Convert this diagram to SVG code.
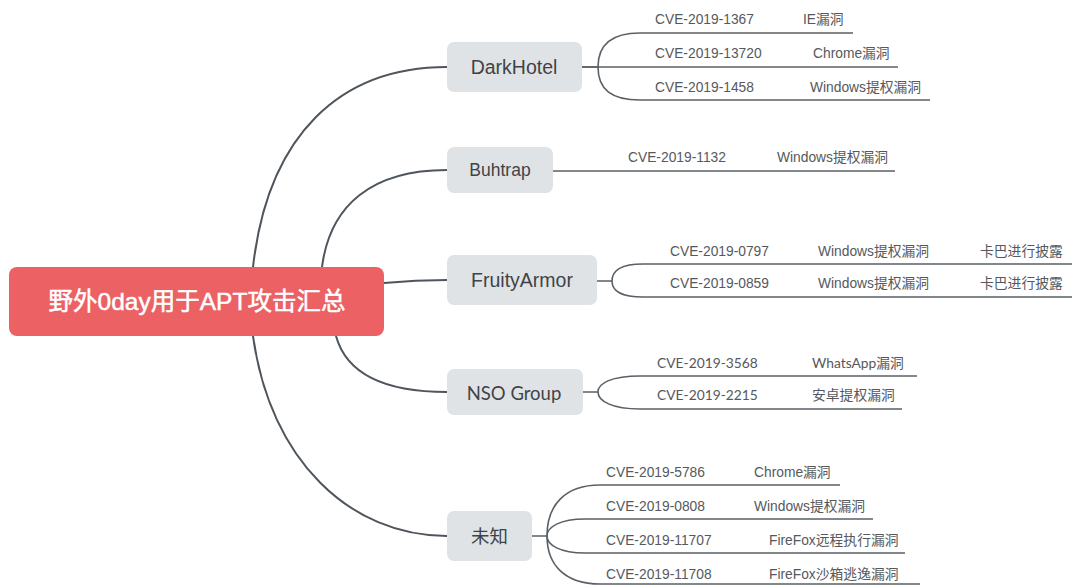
<svg xmlns="http://www.w3.org/2000/svg" width="1072" height="585" viewBox="0 0 1072 585">
<style>
.bg{fill:#ffffff}
.conn path{fill:none;stroke:#4f555c;stroke-width:2;stroke-linecap:round}
.sub path{fill:none;stroke:#5a6067;stroke-width:1.6}
.box{fill:#dfe3e6}
.root{fill:#eb6164}
.rt{font-family:"Liberation Sans","Noto Sans CJK SC",sans-serif;font-size:24.5px;fill:#ffffff;stroke:#ffffff;stroke-width:0.5;text-anchor:middle}
.bt{font-family:"Liberation Sans","Noto Sans CJK SC",sans-serif;font-size:19.5px;fill:#3f4347;text-anchor:middle}
.lt{font-family:"Liberation Sans","Noto Sans CJK SC",sans-serif;font-size:13.8px;fill:#55595d}
.lato{font-family:Lato,"Noto Sans CJK SC",sans-serif}
</style>
<rect class="bg" x="0" y="0" width="1072" height="585"/>
<g id="connectors">
<g class="conn">
<path d="M253,267 C268,135 340,67 447,67"/>
<path d="M322,267 C330,205 372,170 447,170"/>
<path d="M384,283 C405,281 425,280 447,280"/>
<path d="M336,336 C346,372 382,392 447,392"/>
<path d="M253,336 C270,460 350,536 447,536"/>
</g>
<g class="sub">
<path d="M582,67 H898"/>
<path d="M582,67 H598 C598,44 612,33 640,33 H853"/>
<path d="M598,67 C598,90 612,100 640,100 H930"/>
<path d="M553,171 H895"/>
<path d="M597,281 H612 C612,270 622,264 643,264 H1072"/>
<path d="M612,281 C612,292 622,297 643,297 H1072"/>
<path d="M583,392 H598 C598,383 612,376 640,376 H917"/>
<path d="M598,392 C598,401 612,409 640,409 H902"/>
<path d="M532,536 H547 C547,505 565,485 600,485 H840"/>
<path d="M547,536 C547,527 560,519 585,519 H873"/>
<path d="M547,536 C547,545 560,553 585,553 H905"/>
<path d="M547,536 C547,565 565,584 600,584 H920"/>
</g>
</g>
<g id="root">
<rect class="root" x="9" y="267" width="375" height="69" rx="8"/>
<text class="rt" x="197" y="310">野外0day用于APT攻击汇总</text>
</g>
<g id="darkhotel">
<rect class="box" x="447" y="42" width="135" height="50" rx="7"/>
<text class="bt" x="514" y="74">DarkHotel</text>
<text class="lt" x="655" y="24">CVE-2019-1367</text>
<text class="lt" x="803" y="24">IE漏洞</text>
<text class="lt" x="655" y="58">CVE-2019-13720</text>
<text class="lt" x="813" y="58">Chrome漏洞</text>
<text class="lt" x="655" y="92">CVE-2019-1458</text>
<text class="lt" x="810" y="92">Windows提权漏洞</text>
</g>
<g id="buhtrap">
<rect class="box" x="447" y="147" width="106" height="46" rx="7"/>
<text class="bt" x="500" y="176" style="font-size:17.5px">Buhtrap</text>
<text class="lt" x="628" y="162">CVE-2019-1132</text>
<text class="lt" x="777" y="162">Windows提权漏洞</text>
</g>
<g id="fruityarmor">
<rect class="box" x="447" y="255" width="150" height="50" rx="7"/>
<text class="bt" x="522" y="287">FruityArmor</text>
<text class="lt" x="670" y="256">CVE-2019-0797</text>
<text class="lt" x="818" y="256">Windows提权漏洞</text>
<text class="lt" x="980" y="256">卡巴进行披露</text>
<text class="lt" x="670" y="288">CVE-2019-0859</text>
<text class="lt" x="818" y="288">Windows提权漏洞</text>
<text class="lt" x="980" y="288">卡巴进行披露</text>
</g>
<g id="nso">
<rect class="box" x="447" y="369" width="136" height="46" rx="7"/>
<text class="bt lato" x="514" y="400" style="font-size:18.5px">NSO Group</text>
<text class="lt lato" x="657" y="368">CVE-2019-3568</text>
<text class="lt lato" x="812" y="368">WhatsApp漏洞</text>
<text class="lt lato" x="657" y="400">CVE-2019-2215</text>
<text class="lt lato" x="812" y="400">安卓提权漏洞</text>
</g>
<g id="unknown">
<rect class="box" x="447" y="511" width="85" height="50" rx="7"/>
<text class="bt" x="489.5" y="543" style="font-size:18.5px">未知</text>
<text class="lt" x="606" y="477">CVE-2019-5786</text>
<text class="lt" x="754" y="477">Chrome漏洞</text>
<text class="lt" x="606" y="511">CVE-2019-0808</text>
<text class="lt" x="754" y="511">Windows提权漏洞</text>
<text class="lt" x="606" y="545">CVE-2019-11707</text>
<text class="lt" x="769" y="545">FireFox远程执行漏洞</text>
<text class="lt" x="606" y="579">CVE-2019-11708</text>
<text class="lt" x="769" y="579">FireFox沙箱逃逸漏洞</text>
</g>
</svg>
